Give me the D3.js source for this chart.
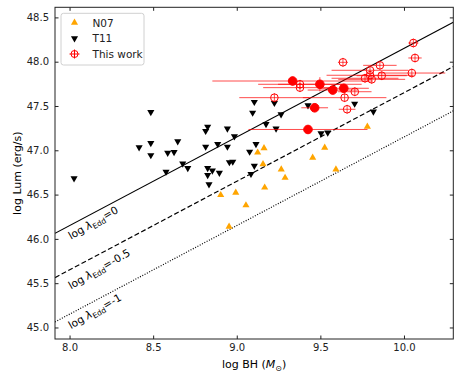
<!DOCTYPE html>
<html>
<head>
<meta charset="utf-8">
<script src="https://cdn.jsdelivr.net/npm/d3@7"></script>
<style>
    body { margin: 0; background: #fff; }
    text { font-family: "DejaVu Sans", sans-serif; }
</style>
</head>
<body>
<script>
// T11 sample (black, triangle down)
let t11Mass = [8.027, 8.416, 8.486, 8.486, 8.486, 8.577, 8.587, 8.625, 8.647, 8.677,
    8.707, 8.814, 8.826, 8.814, 8.826, 8.826, 8.834, 8.854, 8.886, 8.896,
    8.944, 8.944, 8.986, 8.956, 8.976, 9.077, 9.115, 9.105, 9.085, 9.095,
    9.105, 9.175, 9.225, 9.235, 9.265, 9.426, 9.504, 9.544, 9.705, 9.817];
let t11Lum = [46.684, 47.034, 47.432, 47.082, 46.944, 46.758, 46.971, 46.98, 47.10, 46.85,
    46.80, 47.218, 47.266, 47.04, 46.80, 46.72, 46.616, 46.77, 47.069, 46.745,
    47.244, 47.04, 47.158, 46.865, 46.871, 46.984, 47.069, 46.824, 46.733, 47.424,
    47.545, 47.296, 47.534, 47.244, 47.406, 47.508, 47.192, 47.199, 47.526, 47.436];

// N07 sample (orange, triangle up)
let n07Mass = [8.904, 8.994, 9.055, 8.954, 9.125, 9.163, 9.157, 9.167, 9.266, 9.289,
    9.454, 9.526, 9.593, 9.781];
let n07Lum = [46.495, 46.521, 46.379, 46.138, 46.975, 47.024, 46.843, 46.58, 46.785, 46.69,
    46.916, 47.029, 46.785, 47.266];

// This work (red, with error bars)
let workMass = [9.334, 9.497, 9.574, 9.64, 9.466, 9.426,
    9.635, 10.056, 10.066, 9.856, 9.797, 9.797, 9.767, 9.807, 9.867, 10.047,
    9.378, 9.378, 9.225, 9.706, 9.645, 9.66];
let workLum = [47.782, 47.745, 47.68, 47.70, 47.48, 47.235,
    47.993, 48.211, 48.042, 47.959, 47.903, 47.847, 47.813, 47.801, 47.842, 47.872,
    47.745, 47.707, 47.594, 47.661, 47.594, 47.463];
let workMassErr = [0.48, 0.25, 0.15, 0.15, 0.08, 0.356,
    0.03, 0.03, 0.04, 0.1, 0.23, 0.26, 0.2, 0.2, 0.15, 0.2,
    0.25, 0.22, 0.21, 0.1, 0.25, 0.05];
let workLumErr = [0.05, 0.08, 0.05, 0.05, 0.05, 0.05,
    0.05, 0.05, 0.05, 0.05, 0.05, 0.05, 0.05, 0.05, 0.05, 0.05,
    0.05, 0.05, 0.05, 0.05, 0.05, 0.05];
let workFilled = [true, true, true, true, true, true,
    false, false, false, false, false, false, false, false, false, false,
    false, false, false, false, false, false];

// Eddington ratio lines: log L = log M + 38.15 + log lambda
let eddRatios = [0, -0.5, -1];
let eddLabels = ["0", "-0.5", "-1"];
let eddLabelLum = [45.99, 45.43, 44.98];

let xTicks = [8.0, 8.5, 9.0, 9.5, 10.0];
let yTicks = [45.0, 45.5, 46.0, 46.5, 47.0, 47.5, 48.0, 48.5];

let svgWidth = 463,
    svgHeight = 381,
    plot = { left: 55, right: 453.3, top: 7.3, bottom: 339 };

let svg = d3.select("body").append("svg")
    .attr("width", svgWidth)
    .attr("height", svgHeight);

let x = d3.scaleLinear().domain([7.913, 10.295]).range([plot.left, plot.right]);
let y = d3.scaleLinear().domain([44.87, 48.614]).range([plot.bottom, plot.top]);

svg.append("clipPath").attr("id", "clip")
    .append("rect")
    .attr("x", plot.left).attr("y", plot.top)
    .attr("width", plot.right - plot.left).attr("height", plot.bottom - plot.top);

function drawEddLines() {
    let g = svg.append("g").attr("clip-path", "url(#clip)");
    let dashes = [null, "5,2.5", "1,1.6"];
    let xd = x.domain();
    eddRatios.forEach((r, i) => {
        g.append("line")
            .attr("x1", x(xd[0])).attr("y1", y(xd[0] + 38.15 + r))
            .attr("x2", x(xd[1])).attr("y2", y(xd[1] + 38.15 + r))
            .attr("stroke", "black")
            .attr("stroke-width", 1.2)
            .attr("stroke-dasharray", dashes[i]);
    });

    eddRatios.forEach((r, i) => {
        let t = svg.append("text")
            .attr("transform", "translate(" + x(8.009) + "," + y(eddLabelLum[i]) + ") rotate(-30)")
            .attr("font-size", 10.5)
            .attr("fill", "black");
        t.append("tspan").text("log ");
        t.append("tspan").attr("font-style", "italic").text("λ");
        t.append("tspan").attr("font-size", 7.5).attr("dy", 2.5).text("Edd");
        t.append("tspan").attr("dy", -2.5).text("=" + eddLabels[i]);
    });
}

function drawTriangles(mass, lum, color, type, rot) {
    let sym = d3.symbol().type(type).size(22);
    svg.append("g").selectAll("path")
        .data(mass)
        .enter().append("path")
        .attr("d", sym)
        .attr("transform", (d, i) => "translate(" + x(d) + "," + y(lum[i]) + ") rotate(" + rot + ")")
        .attr("fill", color);
}

function drawWork() {
    let g = svg.append("g");
    workMass.forEach((m, i) => {
        g.append("line")
            .attr("x1", x(m - workMassErr[i])).attr("x2", x(m + workMassErr[i]))
            .attr("y1", y(workLum[i])).attr("y2", y(workLum[i]))
            .attr("stroke", "red").attr("stroke-opacity", 0.7).attr("stroke-width", 1);
        g.append("line")
            .attr("x1", x(m)).attr("x2", x(m))
            .attr("y1", y(workLum[i] - workLumErr[i])).attr("y2", y(workLum[i] + workLumErr[i]))
            .attr("stroke", "red").attr("stroke-opacity", 0.7).attr("stroke-width", 1);
    });
    workMass.forEach((m, i) => {
        g.append("circle")
            .attr("cx", x(m)).attr("cy", y(workLum[i]))
            .attr("r", workFilled[i] ? 4.3 : 3.8)
            .attr("fill", workFilled[i] ? "red" : "none")
            .attr("stroke", "red")
            .attr("stroke-width", 1);
    });
}

function drawAxes() {
    let xAxis = d3.axisBottom(x).tickValues(xTicks).tickFormat(d3.format(".1f"))
        .tickSizeInner(-3.5).tickSizeOuter(0).tickPadding(5);
    let yAxis = d3.axisLeft(y).tickValues(yTicks).tickFormat(d3.format(".1f"))
        .tickSizeInner(-3.5).tickSizeOuter(0).tickPadding(6);
    let xTop = d3.axisTop(x).tickValues(xTicks).tickFormat("").tickSizeInner(-3.5).tickSizeOuter(0);
    let yRight = d3.axisRight(y).tickValues(yTicks).tickFormat("").tickSizeInner(-3.5).tickSizeOuter(0);

    [
        svg.append("g").attr("transform", "translate(0," + plot.bottom + ")").call(xAxis),
        svg.append("g").attr("transform", "translate(" + plot.left + ",0)").call(yAxis),
        svg.append("g").attr("transform", "translate(0," + plot.top + ")").call(xTop),
        svg.append("g").attr("transform", "translate(" + plot.right + ",0)").call(yRight)
    ].forEach(a => {
        a.select(".domain").remove();
        a.selectAll("text").attr("font-size", 10).attr("fill", "#222").attr("font-family", "DejaVu Sans");
        a.selectAll("line").attr("stroke", "#222");
    });

    svg.append("rect")
        .attr("x", plot.left).attr("y", plot.top)
        .attr("width", plot.right - plot.left).attr("height", plot.bottom - plot.top)
        .attr("fill", "none").attr("stroke", "#222").attr("stroke-width", 1);

    let xl = svg.append("text")
        .attr("x", (plot.left + plot.right) / 2).attr("y", 368)
        .attr("text-anchor", "middle").attr("font-size", 11);
    xl.append("tspan").text("log BH (");
    xl.append("tspan").attr("font-style", "italic").text("M");
    xl.append("tspan").attr("font-size", 8).attr("dy", 2.5).text("⊙");
    xl.append("tspan").attr("dy", -2.5).text(")");

    svg.append("text")
        .attr("transform", "translate(21," + ((plot.top + plot.bottom) / 2) + ") rotate(-90)")
        .attr("text-anchor", "middle").attr("font-size", 11)
        .text("log Lum (erg/s)");
}

function drawLegend() {
    let g = svg.append("g");
    g.append("rect")
        .attr("x", 61).attr("y", 13.3).attr("width", 83).attr("height", 51.7)
        .attr("rx", 2.5)
        .attr("fill", "white").attr("fill-opacity", 0.8)
        .attr("stroke", "#d0d0d0").attr("stroke-width", 1);
    let rows = [22.7, 38.3, 54];
    let names = ["N07", "T11", "This work"];
    g.append("path")
        .attr("d", d3.symbol().type(d3.symbolTriangle).size(22))
        .attr("transform", "translate(74.5," + rows[0] + ")")
        .attr("fill", "orange");
    g.append("path")
        .attr("d", d3.symbol().type(d3.symbolTriangle).size(22))
        .attr("transform", "translate(74.5," + rows[1] + ") rotate(180)")
        .attr("fill", "black");
    g.append("line").attr("x1", 69.5).attr("x2", 79.5).attr("y1", rows[2]).attr("y2", rows[2])
        .attr("stroke", "red");
    g.append("line").attr("x1", 74.5).attr("x2", 74.5).attr("y1", rows[2] - 4.5).attr("y2", rows[2] + 4.5)
        .attr("stroke", "red");
    g.append("circle").attr("cx", 74.5).attr("cy", rows[2]).attr("r", 3.5)
        .attr("fill", "none").attr("stroke", "red");
    names.forEach((n, i) => {
        g.append("text").attr("x", 92.5).attr("y", rows[i] + 3.8)
            .attr("font-size", 10.5).attr("fill", "#222").text(n);
    });
}

drawEddLines();
drawTriangles(n07Mass, n07Lum, "orange", d3.symbolTriangle, 0);
drawTriangles(t11Mass, t11Lum, "black", d3.symbolTriangle, 180);
drawWork();
drawAxes();
drawLegend();
</script>
</body>
</html>
